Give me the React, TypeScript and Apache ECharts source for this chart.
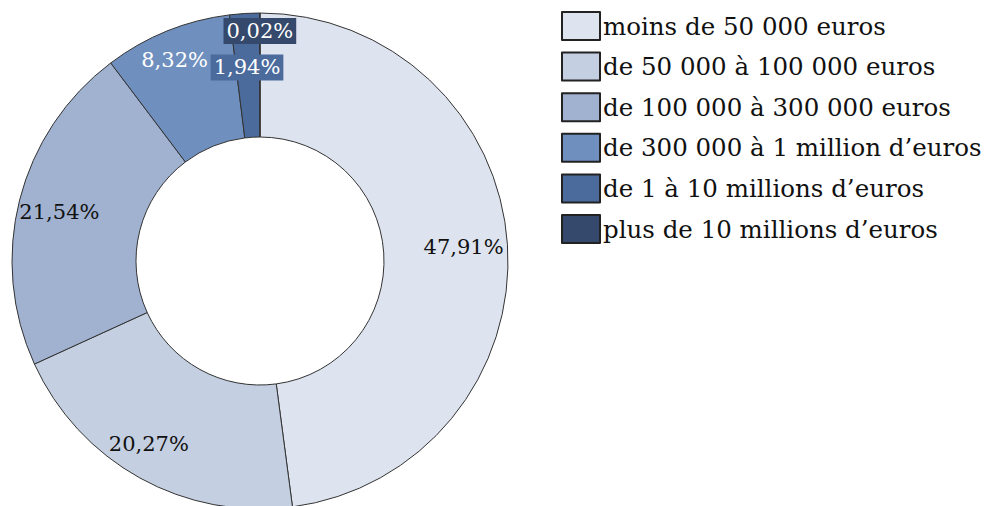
import React, { useEffect, useRef } from "react";
import * as echarts from "echarts";

const categories = [
  "moins de 50 000 euros",
  "de 50 000 à 100 000 euros",
  "de 100 000 à 300 000 euros",
  "de 300 000 à 1 million d’euros",
  "de 1 à 10 millions d’euros",
  "plus de 10 millions d’euros",
];
const values = [47.91, 20.27, 21.54, 8.32, 1.94, 0.02];
const colors = ["#dee4ef", "#c4cfe1", "#a0b2d0", "#6f8fbe", "#4b6b9d", "#34496b"];
const labelColors = ["#111", "#111", "#111", "#fff", "#fff", "#fff"];
const labelBoxes = [null, null, null, null, "#4b6b9d", "#34496b"];
const labelShiftX = [-5, -10, 2, -7, 0, 0];
const labelShiftY = [0, 0, 2, -7, 15, -21];

const FONT = "DejaVu Serif";

const fmt = (v: number) => v.toFixed(2).replace(".", ",") + "%";

export default function App() {
  const ref = useRef<HTMLDivElement>(null);
  useEffect(() => {
    document.body.style.margin = "0";
    const chart = echarts.init(ref.current!, null, { renderer: "svg" });
    const baseData = categories.map((name, i) => ({
      name,
      value: values[i],
      itemStyle: { color: colors[i] },
    }));
    const labelData = categories.map((name, i) => ({
      name,
      value: values[i],
      label: {
        color: labelColors[i],
        backgroundColor: labelBoxes[i] || "transparent",
        padding: labelBoxes[i] ? [3, 3, 2, 3] : 0,
      },
    }));
    chart.setOption({
      animation: false,
      legend: {
        orient: "vertical",
        left: 556,
        top: 6,
        itemWidth: 38,
        itemHeight: 28,
        itemGap: 10.6,
        icon: "rect",
        data: categories,
        itemStyle: { borderColor: "#222", borderWidth: 2 },
        textStyle: {
          fontFamily: FONT,
          fontSize: 24.5,
          lineHeight: 25,
          color: "#111",
          padding: [4, 0, 0, -2],
        },
        selectedMode: false,
      },
      series: [
        {
          type: "pie",
          center: [260, 261],
          radius: [124, 248],
          startAngle: 90,
          clockwise: true,
          silent: true,
          label: { show: false },
          labelLine: { show: false },
          itemStyle: { borderColor: "#333", borderWidth: 1 },
          data: baseData,
        },
        {
          type: "pie",
          center: [260, 261],
          radius: [162, 250],
          startAngle: 90,
          clockwise: true,
          silent: true,
          itemStyle: { color: "transparent", borderWidth: 0 },
          emphasis: { disabled: true },
          label: {
            show: true,
            position: "inside",
            fontFamily: FONT,
            fontSize: 21,
            formatter: (p: any) => fmt(p.value),
          },
          labelLine: { show: false },
          labelLayout: (p: any) => ({
            dx: labelShiftX[p.dataIndex],
            dy: labelShiftY[p.dataIndex],
          }),
          data: labelData,
        },
      ],
    });
    return () => chart.dispose();
  }, []);
  return <div ref={ref} style={{ width: 984, height: 506 }} />;
}
